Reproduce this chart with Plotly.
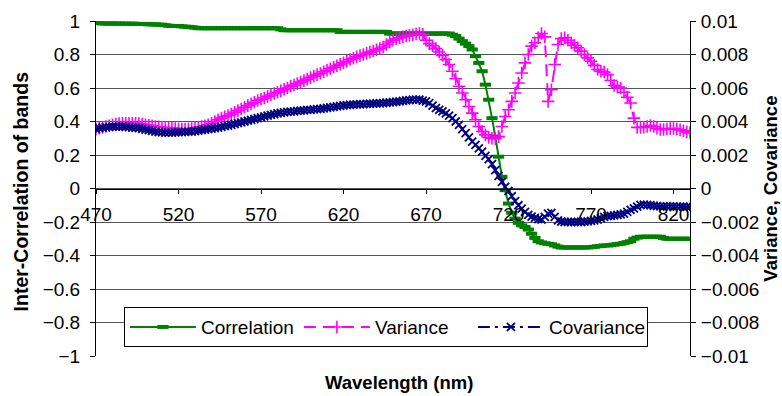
import plotly.graph_objects as go

wavelength_nm = list(range(470, 832, 2))

correlation = [
    0.995, 0.988, 0.985, 0.985, 0.985, 0.985, 0.985, 0.985, 0.984, 0.984,
    0.984, 0.984, 0.983, 0.983, 0.982, 0.982, 0.980, 0.980, 0.980, 0.978,
    0.978, 0.975, 0.972, 0.970, 0.970, 0.970, 0.968, 0.966, 0.965, 0.963,
    0.960, 0.957, 0.957, 0.957, 0.957, 0.957, 0.957, 0.957, 0.957, 0.957,
    0.957, 0.957, 0.957, 0.957, 0.957, 0.957, 0.957, 0.957, 0.957, 0.957,
    0.957, 0.957, 0.957, 0.957, 0.957, 0.957, 0.950, 0.945, 0.945, 0.945,
    0.945, 0.945, 0.945, 0.945, 0.945, 0.945, 0.945, 0.945, 0.945, 0.945,
    0.945, 0.945, 0.945, 0.945, 0.935, 0.935, 0.935, 0.935, 0.935, 0.935,
    0.935, 0.935, 0.935, 0.935, 0.935, 0.935, 0.935, 0.935, 0.935, 0.925,
    0.925, 0.925, 0.925, 0.925, 0.925, 0.925, 0.925, 0.925, 0.925, 0.925,
    0.925, 0.925, 0.925, 0.925, 0.925, 0.925, 0.925, 0.925, 0.918, 0.910,
    0.895, 0.880, 0.865, 0.850, 0.830, 0.790, 0.750, 0.700, 0.620, 0.530,
    0.420, 0.310, 0.190, 0.070, -0.010, -0.090, -0.145, -0.180, -0.205, -0.220,
    -0.230, -0.245, -0.270, -0.295, -0.315, -0.322, -0.327, -0.330, -0.333, -0.340,
    -0.347, -0.352, -0.352, -0.352, -0.352, -0.352, -0.352, -0.352, -0.352, -0.352,
    -0.350, -0.348, -0.345, -0.343, -0.340, -0.340, -0.338, -0.335, -0.332, -0.330,
    -0.325, -0.320, -0.315, -0.300, -0.293, -0.288, -0.288, -0.288, -0.288, -0.288,
    -0.288, -0.288, -0.295, -0.300, -0.300, -0.300, -0.300, -0.300, -0.300, -0.300,
    -0.300,
]

variance = [
    0.00355, 0.0036, 0.00365, 0.0037, 0.00375, 0.0038, 0.00385, 0.00388, 0.0039, 0.0039,
    0.0039, 0.0039, 0.0039, 0.00388, 0.00385, 0.0038, 0.00377, 0.00374, 0.0037, 0.00368,
    0.00366, 0.00364, 0.00362, 0.0036, 0.00358, 0.00356, 0.00355, 0.00355, 0.00356, 0.00358,
    0.00362, 0.00366, 0.0037, 0.00375, 0.0038, 0.0039, 0.004, 0.0041, 0.0042, 0.00428,
    0.00436, 0.00445, 0.00455, 0.00465, 0.00475, 0.00485, 0.00495, 0.00505, 0.00515, 0.00525,
    0.00533, 0.0054, 0.0055, 0.00558, 0.00567, 0.00575, 0.00583, 0.00592, 0.006, 0.0061,
    0.00617, 0.00626, 0.00635, 0.00644, 0.00653, 0.00662, 0.00671, 0.0068, 0.00688, 0.00697,
    0.00706, 0.00715, 0.00724, 0.00733, 0.00742, 0.0075, 0.0076, 0.0077, 0.00778, 0.00786,
    0.00793, 0.008, 0.00807, 0.00814, 0.00821, 0.00828, 0.00835, 0.00845, 0.0086, 0.00875,
    0.00885, 0.00893, 0.009, 0.00906, 0.0091, 0.00914, 0.00918, 0.00922, 0.00925, 0.0092,
    0.00885, 0.00865, 0.00852, 0.00835, 0.00815, 0.00795, 0.0077, 0.0074, 0.007, 0.00655,
    0.0061, 0.0057, 0.0053, 0.0049, 0.0045, 0.0041, 0.0037, 0.0034, 0.0032, 0.00305,
    0.003, 0.00298, 0.0031, 0.0037, 0.0043, 0.0047, 0.0052, 0.0057, 0.0063, 0.0069,
    0.0075, 0.008, 0.0085, 0.0087, 0.009, 0.00925, 0.00905, 0.0052, 0.0059, 0.0074,
    0.0086, 0.00895, 0.009, 0.00885, 0.0087, 0.00855, 0.0084, 0.0082, 0.008, 0.0078,
    0.0076, 0.00735, 0.0071, 0.007, 0.00695, 0.0068, 0.00645, 0.00615, 0.00605, 0.006,
    0.00575, 0.00545, 0.0051, 0.0042, 0.00365, 0.00364, 0.00366, 0.0037, 0.00376, 0.0037,
    0.0036, 0.00352, 0.00352, 0.00355, 0.00358, 0.00358, 0.00355, 0.0035, 0.00345, 0.00338,
    0.00332,
]

covariance = [
    0.00355, 0.0036, 0.00363, 0.00366, 0.00368, 0.0037, 0.0037, 0.0037, 0.0037, 0.00368,
    0.00366, 0.00364, 0.00362, 0.0036, 0.00356, 0.00352, 0.00348, 0.00344, 0.0034, 0.00337,
    0.00335, 0.00334, 0.00334, 0.00334, 0.00335, 0.00336, 0.00337, 0.00338, 0.00339, 0.0034,
    0.00342, 0.00345, 0.00348, 0.00351, 0.00354, 0.00357, 0.0036, 0.00364, 0.00368, 0.00372,
    0.00376, 0.0038, 0.00385, 0.0039, 0.00395, 0.004, 0.00405, 0.0041, 0.00415, 0.0042,
    0.00425, 0.0043, 0.00435, 0.0044, 0.00444, 0.00448, 0.00452, 0.00455, 0.00457, 0.00459,
    0.00461, 0.00463, 0.00465, 0.00467, 0.00469, 0.0047, 0.00472, 0.00474, 0.00476, 0.00478,
    0.00481, 0.00484, 0.00487, 0.0049, 0.00493, 0.00496, 0.00498, 0.005, 0.00501, 0.00502,
    0.00503, 0.00504, 0.00505, 0.00506, 0.00507, 0.00508, 0.00509, 0.0051, 0.00512, 0.00514,
    0.00516, 0.00518, 0.0052, 0.00523, 0.00526, 0.00528, 0.0053, 0.0053, 0.0053, 0.00525,
    0.0052, 0.0051, 0.00495, 0.0048, 0.0047, 0.0046, 0.00448, 0.00435, 0.0042, 0.004,
    0.0038, 0.00355, 0.0033, 0.00305, 0.0028, 0.0026, 0.0024, 0.0022, 0.00195, 0.00175,
    0.00145, 0.0011, 0.00075, 0.0004, 0.0001, -0.00015, -0.00045, -0.00075, -0.001, -0.0012,
    -0.0014, -0.00158, -0.00168, -0.00175, -0.00183, -0.00185, -0.0017, -0.0015, -0.00145, -0.0017,
    -0.0019, -0.00197, -0.002, -0.002, -0.002, -0.002, -0.002, -0.002, -0.00198, -0.00196,
    -0.00193, -0.0019, -0.00185, -0.00178, -0.0017, -0.00165, -0.00163, -0.0016, -0.00157, -0.00155,
    -0.0015, -0.0014, -0.00128, -0.00118, -0.00108, -0.00098, -0.00096, -0.00098, -0.001, -0.00103,
    -0.00105, -0.00107, -0.00107, -0.00107, -0.00107, -0.00107, -0.00108, -0.00108, -0.00108, -0.0011,
    -0.0011,
]

x_ticks = [470, 520, 570, 620, 670, 720, 770, 820]
left_ticks = [1, 0.8, 0.6, 0.4, 0.2, 0, -0.2, -0.4, -0.6, -0.8, -1]
left_labels = ["1", "0.8", "0.6", "0.4", "0.2", "0", "\u22120.2", "\u22120.4", "\u22120.6", "\u22120.8", "\u22121"]
right_ticks = [0.01, 0.008, 0.006, 0.004, 0.002, 0, -0.002, -0.004, -0.006, -0.008, -0.01]
right_labels = ["0.01", "0.008", "0.006", "0.004", "0.002", "0", "\u22120.002", "\u22120.004",
                "\u22120.006", "\u22120.008", "\u22120.01"]

FONT = "Liberation Sans, Arial, sans-serif"
GREEN = "#008000"
MAGENTA = "#FF00FF"
NAVY = "#000080"
FS = 19

fig = go.Figure()
fig.add_trace(go.Scatter(
    x=wavelength_nm, y=correlation, name="Correlation", mode="lines+markers",
    line=dict(color=GREEN, width=2),
    marker=dict(symbol="line-ew", size=8, color=GREEN, line=dict(color=GREEN, width=4)),
    yaxis="y"))
fig.add_trace(go.Scatter(
    x=wavelength_nm, y=variance, name="Variance", mode="lines+markers",
    line=dict(color=MAGENTA, width=2, dash="12px,7px"),
    marker=dict(symbol="cross-thin", size=9, color=MAGENTA, line=dict(color=MAGENTA, width=1.6)),
    yaxis="y2"))
fig.add_trace(go.Scatter(
    x=wavelength_nm, y=covariance, name="Covariance", mode="lines+markers",
    line=dict(color=NAVY, width=2, dash="12px,5px,3px,5px"),
    marker=dict(symbol="x-thin", size=8, color=NAVY, line=dict(color=NAVY, width=1.8)),
    yaxis="y2"))

fig.update_layout(
    width=782, height=396,
    margin=dict(l=96, r=92, t=21, b=40),
    paper_bgcolor="white", plot_bgcolor="white",
    font=dict(family=FONT, size=FS, color="black"),
    showlegend=True,
    legend=dict(orientation="h", x=0.047, y=0.146, xanchor="left", yanchor="top",
                bgcolor="white", bordercolor="black", borderwidth=1,
                font=dict(family=FONT, size=FS, color="black"), itemwidth=66,
                entrywidth=93, entrywidthmode="pixels"),
    xaxis=dict(range=[470, 830], tickvals=x_ticks, ticktext=[str(v) for v in x_ticks],
               anchor="free", position=0.5, showline=True, linecolor="black", linewidth=1,
               ticks="outside", ticklen=4, tickcolor="black", showgrid=False, zeroline=False,
               ticklabelstandoff=5, tickfont=dict(size=FS)),
    yaxis=dict(range=[-1, 1], tickvals=left_ticks, ticktext=left_labels,
               showline=True, linecolor="black", linewidth=1, ticks="outside", ticklen=5,
               tickcolor="black", showgrid=True, gridcolor="#555555", gridwidth=1,
               zeroline=False, ticklabelstandoff=6, tickfont=dict(size=FS)),
    yaxis2=dict(range=[-0.01, 0.01], tickvals=right_ticks, ticktext=right_labels,
                overlaying="y", side="right", showline=True, linecolor="black", linewidth=1,
                ticks="outside", ticklen=5, tickcolor="black", showgrid=False, zeroline=False,
                ticklabelstandoff=1, tickfont=dict(size=FS)),
    annotations=[
        dict(text="<b>Inter-Correlation of bands</b>", xref="paper", yref="paper",
             x=-0.127, y=0.49, xanchor="center", yanchor="middle", textangle=-90,
             showarrow=False, font=dict(family=FONT, size=19.5, color="black")),
        dict(text="<b>Variance, Covariance</b>", xref="paper", yref="paper",
             x=1.135, y=0.5, xanchor="center", yanchor="middle", textangle=-90,
             showarrow=False, font=dict(family=FONT, size=18.5, color="black")),
        dict(text="<b>Wavelength (nm)</b>", xref="paper", yref="paper",
             x=0.51, y=-0.08, xanchor="center", yanchor="middle",
             showarrow=False, font=dict(family=FONT, size=18.5, color="black")),
    ],
)

fig.write_html("out.html")
